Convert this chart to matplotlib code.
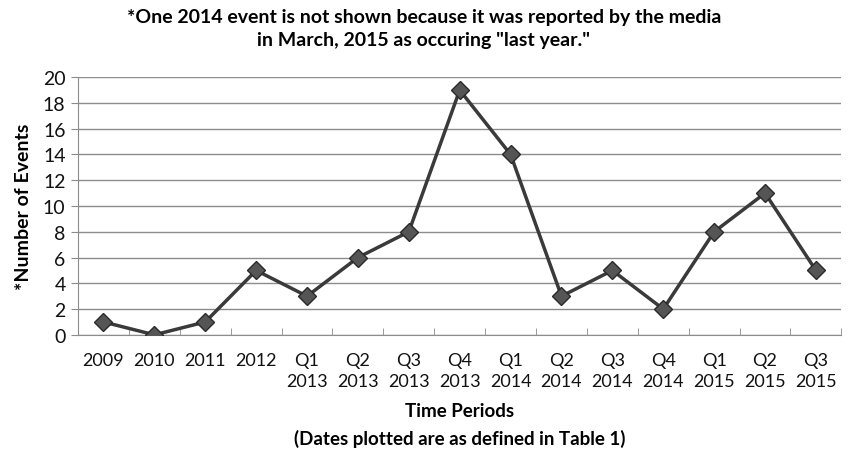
import matplotlib.pyplot as plt

periods = ["2009", "2010", "2011", "2012", "Q1\n2013", "Q2\n2013", "Q3\n2013",
           "Q4\n2013", "Q1\n2014", "Q2\n2014", "Q3\n2014", "Q4\n2014",
           "Q1\n2015", "Q2\n2015", "Q3\n2015"]
events = [1, 0, 1, 5, 3, 6, 8, 19, 14, 3, 5, 2, 8, 11, 5]
y_ticks = list(range(0, 21, 2))

plt.rcParams["font.family"] = ["Lato", "DejaVu Sans"]

fig = plt.figure(figsize=(8.51, 4.52), dpi=100)
ax = fig.add_axes([0.0917, 0.257, 0.897, 0.570])

x = list(range(len(periods)))
ax.plot(x, events, color="#3a3a3a", linewidth=2.5, marker="D", markersize=9,
        markerfacecolor="#555555", markeredgecolor="#2a2a2a", zorder=3)

ax.set_xlim(-0.5, len(periods) - 0.5)
ax.set_ylim(0, 20)
ax.set_yticks(y_ticks)
ax.yaxis.grid(True, color="#8c8c8c", linewidth=1)
ax.set_axisbelow(True)

ax.set_xticks(x)
ax.set_xticklabels(periods, fontsize=13, color="#111111", linespacing=1.45)
ax.set_xticks([i - 0.5 for i in range(len(periods) + 1)], minor=True)
ax.tick_params(axis="x", which="major", length=0, pad=12)
ax.tick_params(axis="x", which="minor", length=5, color="#8c8c8c", direction="in")
ax.tick_params(axis="y", length=5, color="#8c8c8c", labelsize=14, labelcolor="#111111", pad=4)

for side in ["top", "right"]:
    ax.spines[side].set_visible(False)
for side in ["left", "bottom"]:
    ax.spines[side].set_color("#8c8c8c")

ax.set_ylabel("*Number of Events", fontsize=14, fontweight="bold", labelpad=8)

fig.text(0.54, 0.077, "Time Periods", ha="center", fontsize=13.5, fontweight="bold")
fig.text(0.54, 0.015, "(Dates plotted are as defined in Table 1)", ha="center",
         fontsize=13.5, fontweight="bold")
fig.text(0.498, 0.98, "*One 2014 event is not shown because it was reported by the media\n"
         "in March, 2015 as occuring \"last year.\"", ha="center", va="top",
         fontsize=14, fontweight="bold", linespacing=1.45)

fig.savefig("out.png", dpi=100)
